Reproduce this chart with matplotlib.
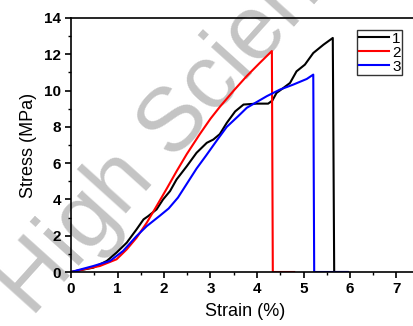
import matplotlib
matplotlib.use("Agg")
import matplotlib.pyplot as plt
from matplotlib.ticker import MultipleLocator

plt.rcParams['font.family'] = ['Liberation Sans', 'DejaVu Sans']

# sample 1 (black)
strain1 = [0, 0.48, 0.77, 0.98, 1.20, 1.41, 1.56, 1.66, 1.84, 1.98, 2.13, 2.27, 2.49,
           2.70, 2.92, 3.06, 3.20, 3.35, 3.53, 3.71, 3.99, 4.24, 4.33, 4.42, 4.57, 4.71,
           4.85, 5.03, 5.21, 5.43, 5.63, 5.66, 5.95]
stress1 = [0, 0.24, 0.61, 1.07, 1.62, 2.35, 2.90, 3.08, 3.45, 4.00, 4.46, 5.10, 5.83,
           6.57, 7.12, 7.30, 7.60, 8.22, 8.85, 9.23, 9.28, 9.28, 9.45, 9.87, 10.15, 10.42,
           11.06, 11.43, 12.07, 12.53, 12.90, 0, 0]
# sample 2 (red)
strain2 = [0, 0.62, 0.98, 1.20, 1.41, 1.63, 1.84, 2.06, 2.27, 2.49, 2.77, 3.00, 3.20,
           3.50, 3.78, 4.05, 4.32, 4.34, 4.80]
stress2 = [0, 0.33, 0.70, 1.25, 1.89, 2.72, 3.63, 4.60, 5.55, 6.50, 7.60, 8.45, 9.10,
           10.00, 10.80, 11.50, 12.18, 0, 0]
# sample 3 (blue)
strain3 = [0, 0.48, 0.84, 1.12, 1.41, 1.63, 1.91, 2.10, 2.30, 2.50, 2.70, 2.90, 3.15,
           3.35, 3.60, 3.78, 4.21, 4.49, 4.78, 5.07, 5.21, 5.23, 5.95]
stress3 = [0, 0.33, 0.61, 1.16, 1.98, 2.53, 3.10, 3.50, 4.10, 4.90, 5.70, 6.40, 7.30,
           8.00, 8.60, 9.05, 9.69, 10.05, 10.33, 10.64, 10.88, 0, 0]

fig = plt.figure(figsize=(4.14, 3.26), dpi=100)
ax = fig.add_axes([71 / 414, 54 / 326, 348.75 / 414, 254 / 326])
ax.set_facecolor('none')

ax.plot(strain1, stress1, color='black', lw=1.5, label='1')
ax.plot(strain2, stress2, color='red', lw=1.5, label='2')
ax.plot(strain3, stress3, color='blue', lw=1.5, label='3')

ax.set_xlim(0, 7.5)
ax.set_ylim(0, 14)
ax.xaxis.set_major_locator(MultipleLocator(1))
ax.xaxis.set_minor_locator(MultipleLocator(0.5))
ax.yaxis.set_major_locator(MultipleLocator(2))
ax.yaxis.set_minor_locator(MultipleLocator(1))
ax.tick_params(which='major', length=4, width=1.2, labelsize=11, pad=3)
ax.tick_params(which='minor', length=2, width=1.0)
for lab in ax.get_xticklabels() + ax.get_yticklabels():
    lab.set_fontweight('bold')
for s in ax.spines.values():
    s.set_linewidth(1.2)

ax.set_xlabel('Strain (%)', fontsize=13, labelpad=5)
ax.set_ylabel('Stress (MPa)', fontsize=13, labelpad=5)

leg = ax.legend(loc='upper left', bbox_to_anchor=((357 - 71) / 348.75, (272 - 30) / 254),
                fontsize=11, frameon=True, fancybox=False, handlelength=2.0,
                borderpad=0.1, labelspacing=0.0, handletextpad=0.2, borderaxespad=0)
leg.get_frame().set_edgecolor('black')
leg.get_frame().set_linewidth(1.0)

# watermark behind the curves
fig.text(32 / 414, 1 - 318 / 326, 'High Science', fontsize=65, color='#c4c4c4',
         rotation=48, rotation_mode='anchor', ha='left', va='baseline', zorder=-1)

fig.savefig('out.png', dpi=100)
